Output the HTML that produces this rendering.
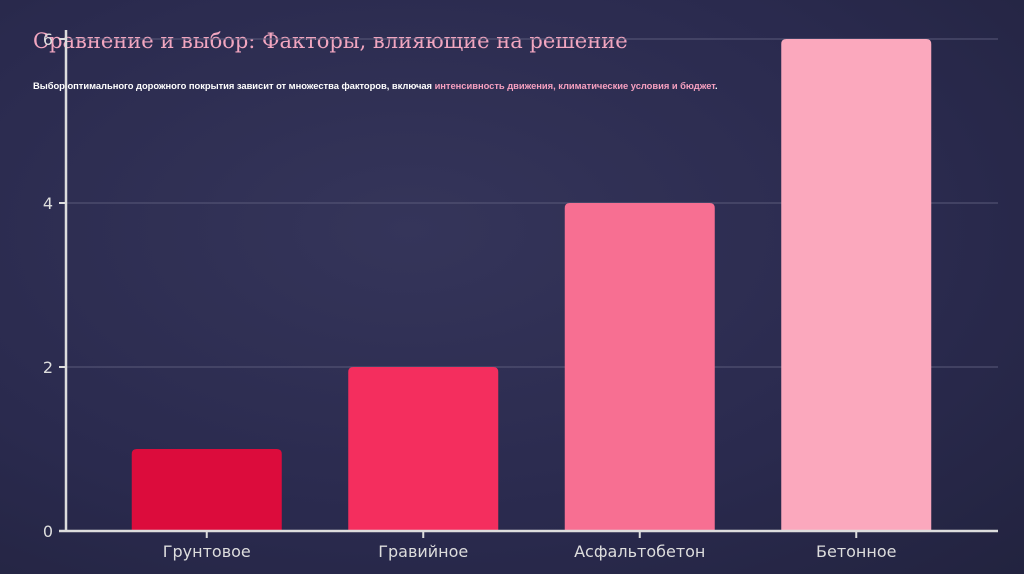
<!DOCTYPE html>
<html><head><meta charset="utf-8"><style>
body{margin:0;width:1024px;height:574px;overflow:hidden;background:radial-gradient(ellipse at 40% 40%,#35355a 0%,#2a2a4e 60%,#22233f 100%);font-family:"Liberation Sans","DejaVu Sans",sans-serif;}
#t{position:absolute;left:33px;top:29px;font-family:"DejaVu Serif","Liberation Serif",serif;font-size:21px;color:#f2a6c0;}
#s{position:absolute;left:33px;top:80px;font-size:9.4px;font-weight:bold;color:#fff;letter-spacing:-0.03px;}
#s span{color:#f6a0c0}
</style></head><body>
<div id="t">Сравнение и выбор: Факторы, влияющие на решение</div>
<div id="s">Выбор оптимального дорожного покрытия зависит от множества факторов, включая <span>интенсивность движения, климатические условия и бюджет</span>.</div>
<svg id="c" width="1024" height="574" style="position:absolute;left:0;top:0"></svg>
<script>
const categories=["Грунтовое","Гравийное","Асфальтобетон","Бетонное"];
const values=[1,2,4,6];
const colors=["#dc0c3c","#f42e5e","#f76f92","#fba8bd"];
const yTicks=[0,2,4,6];
const NS="http://www.w3.org/2000/svg",svg=document.getElementById('c');
const y=v=>531-v*82, x0=98.5, step=216.5, bw=150;
const cx=i=>x0+step*i+step/2;
function mk(tag,a){const e=document.createElementNS(NS,tag);for(const k in a)e.setAttribute(k,a[k]);svg.appendChild(e);return e;}
yTicks.forEach(t=>{
 if(t>0){const g=mk('line',{x1:66,x2:998,y1:y(t),y2:y(t),stroke:'#5a5a7a','stroke-width':1});
 
 }
 const k=mk('line',{x1:59,x2:66,y1:y(t),y2:y(t),stroke:'#ddd','stroke-width':2});
 
 
 const l=mk('text',{x:53,y:y(t)+6,'text-anchor':'end',fill:'#ddd','font-size':16,'font-family':'DejaVu Sans,sans-serif'});l.textContent=t;
 
 
});
categories.forEach((c,i)=>{
 const b=mk('path',{d:`M${cx(i)-bw/2},531 V${y(values[i])+5} q0,-5 5,-5 H${cx(i)+bw/2-5} q5,0 5,5 V531 Z`,fill:colors[i]});
 
 
 const k=mk('line',{x1:cx(i),x2:cx(i),y1:531,y2:538,stroke:'#ddd','stroke-width':2});
 
 
 const l=mk('text',{x:cx(i),y:557,'text-anchor':'middle',fill:'#ddd','font-size':16,'font-family':'DejaVu Sans,sans-serif'});l.textContent=c;
 
 
});
const ax=mk('line',{x1:66,x2:66,y1:30,y2:532,stroke:'#ddd','stroke-width':2.5});


const xa=mk('line',{x1:59,x2:998,y1:531,y2:531,stroke:'#ddd','stroke-width':2.5});


</script>
</body></html>
